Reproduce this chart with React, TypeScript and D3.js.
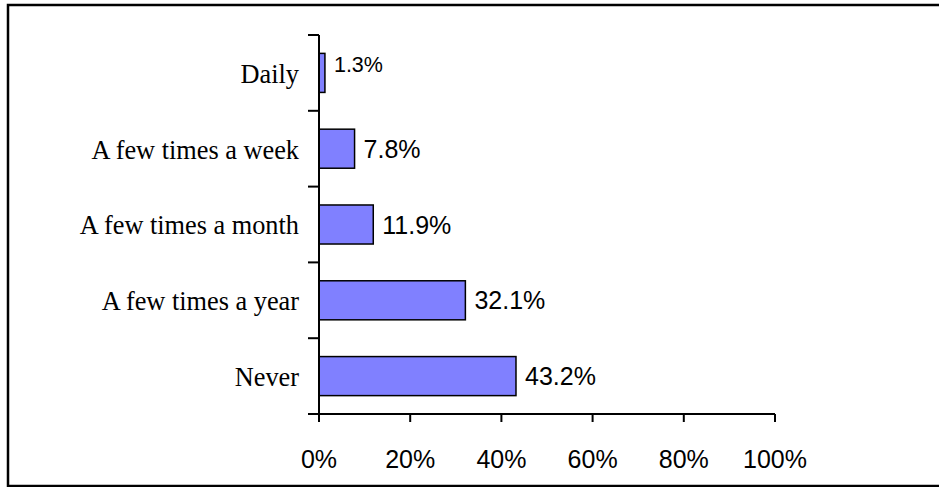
import React from "react";
import * as d3 from "d3";

const categories = ["Daily", "A few times a week", "A few times a month", "A few times a year", "Never"];
const values = [1.3, 7.8, 11.9, 32.1, 43.2];
const xTicks = [0, 20, 40, 60, 80, 100];

const W = 939;
const H = 487;

export default function App() {
  const x = d3.scaleLinear().domain([0, 100]).range([319, 775]);
  const y = d3
    .scaleBand<string>()
    .domain(categories)
    .range([35, 414])
    .paddingInner(0.485)
    .paddingOuter(0.2425);
  const step = y.step();
  const boundaries = d3.range(categories.length + 1).map((i) => 35 + i * step);

  return (
    <svg
      width={W}
      height={H}
      style={{ position: "absolute", left: 0, top: 0, background: "#fff" }}
    >
      <rect x={8} y={5} width={960} height={481} fill="#fff" stroke="#000" strokeWidth={2.5} />
      {/* bars */}
      {categories.map((c, i) => (
        <rect
          key={c}
          x={x(0)}
          y={y(c)!}
          width={x(values[i]) - x(0)}
          height={y.bandwidth()}
          fill="#8080FF"
          stroke="#000"
          strokeWidth={1.5}
        />
      ))}
      {/* y axis */}
      <line x1={x(0)} x2={x(0)} y1={35} y2={414} stroke="#000" strokeWidth={2} />
      {boundaries.map((b, i) => (
        <line key={i} x1={x(0) - 11} x2={x(0)} y1={b} y2={b} stroke="#000" strokeWidth={2} />
      ))}
      {/* x axis */}
      <line x1={x(0)} x2={x(100)} y1={414} y2={414} stroke="#000" strokeWidth={2} />
      {xTicks.map((t) => (
        <g key={t}>
          <line x1={x(t)} x2={x(t)} y1={414} y2={422} stroke="#000" strokeWidth={2} />
          <text
            x={x(t)}
            y={468}
            textAnchor="middle"
            fontFamily="'Liberation Sans', Arial, sans-serif"
            fontSize={25}
            fill="#000"
          >
            {t}%
          </text>
        </g>
      ))}
      {/* category labels */}
      {categories.map((c) => (
        <g key={c} transform={`translate(299,${y(c)! + y.bandwidth() / 2}) scale(0.94,1)`}>
          <text
            x={0}
            y={0}
            dy="0.35em"
            textAnchor="end"
            fontFamily="'Liberation Serif', 'Times New Roman', serif"
            fontSize={28}
            fill="#000"
          >
            {c}
          </text>
        </g>
      ))}
      {/* value labels */}
      {categories.map((c, i) => {
        const small = values[i] < 5;
        return (
          <text
            key={c}
            x={x(values[i]) + 9}
            y={y(c)! + y.bandwidth() / 2 - (small ? 8.5 : 0)}
            dy="0.36em"
            fontFamily="'Liberation Sans', Arial, sans-serif"
            fontSize={small ? 21.5 : 25}
            fill="#000"
          >
            {values[i].toFixed(1)}%
          </text>
        );
      })}
    </svg>
  );
}
